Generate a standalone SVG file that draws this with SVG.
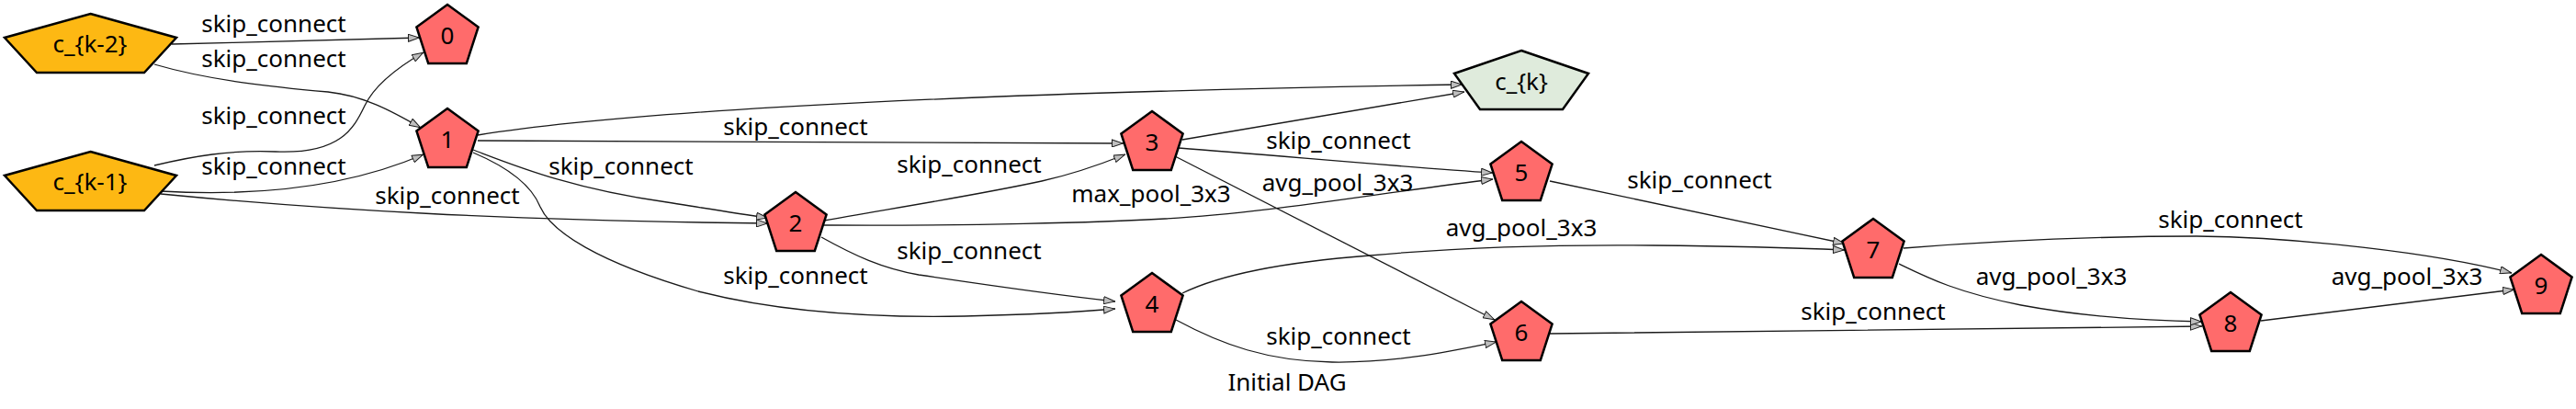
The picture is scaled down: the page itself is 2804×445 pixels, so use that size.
<svg xmlns="http://www.w3.org/2000/svg" width="2804" height="445" viewBox="0 0 2804 445">
<style>
  .bg{fill:#ffffff}
  .in{fill:#FDB813;stroke:#000;stroke-width:2.5}
  .op{fill:#FF6B6B;stroke:#000;stroke-width:2.5}
  .out{fill:#DFEBDC;stroke:#000;stroke-width:2.5}
  .e{fill:none;stroke:#1a1a1a;stroke-width:1.3;marker-end:url(#ah)}
  text{font-family:"Noto Sans","Liberation Sans",sans-serif;font-size:26px;fill:#000}
  .nl{text-anchor:middle}
  .el{text-anchor:middle}
</style>
<defs>
  <marker id="ah" viewBox="0 0 13 9" refX="13" refY="4.5" markerWidth="13" markerHeight="9" markerUnits="userSpaceOnUse" orient="auto">
    <path d="M0.5,0.5 L12.5,4.5 L0.5,8.5 Z" fill="#BEBEBE" stroke="#1a1a1a" stroke-width="1"/>
  </marker>
  <polygon id="pent" points="0,-35.4 33.6,-10.9 20.8,28.6 -20.8,28.6 -33.6,-10.9"/>
</defs>
<rect class="bg" x="0" y="0" width="2804" height="445"/>

<g id="connectors">
  <path class="e" d="M187,48 C280,46 380,43 457,41"/>
  <path class="e" d="M168,70 C230,88 300,95 357,100 C395,104 425,120 458,139"/>
  <path class="e" d="M168,180 C210,170 250,163 300,165 C370,168 385,140 397,115 C408,92 435,72 461,57"/>
  <path class="e" d="M175,208 C280,214 380,203 461,168"/>
  <path class="e" d="M175,211 C350,228 550,240 836,243"/>
  <path class="e" d="M520,147 C700,118 1100,100 1592,92"/>
  <path class="e" d="M520,153 L1223,156"/>
  <path class="e" d="M515,163 C560,180 620,205 726,220 C770,227 800,232 836,237"/>
  <path class="e" d="M515,166 C560,185 580,205 588,225 C600,252 650,285 760,317 C850,340 950,346 1050,344 C1130,342 1180,339 1214,336"/>
  <path class="e" d="M897,240 C950,230 1050,215 1134,197 C1170,189 1200,178 1225,168"/>
  <path class="e" d="M897,245 C1050,246 1200,242 1268,238 C1380,232 1500,210 1625,195"/>
  <path class="e" d="M894,258 C930,278 960,292 1000,299 C1080,311 1150,321 1214,328"/>
  <path class="e" d="M1287,152 L1594,100"/>
  <path class="e" d="M1283,161 C1400,170 1530,182 1625,188"/>
  <path class="e" d="M1279,170 L1627,348"/>
  <path class="e" d="M1280,348 C1330,375 1380,393 1450,394 C1520,395 1580,382 1629,372"/>
  <path class="e" d="M1287,319 C1330,298 1400,285 1491,278 C1600,268 1700,266 1800,267 C1900,268 1960,270 2008,272"/>
  <path class="e" d="M1687,197 L2008,265"/>
  <path class="e" d="M1687,363 C1900,361 2200,357 2397,355"/>
  <path class="e" d="M2072,270 C2200,260 2300,257 2391,257 C2500,258 2650,275 2734,297"/>
  <path class="e" d="M2067,287 C2100,303 2130,318 2200,332 C2270,345 2340,349 2397,350"/>
  <path class="e" d="M2461,349 L2737,315"/>

  <text class="el" x="298" y="35">skip_connect</text>
  <text class="el" x="298" y="73">skip_connect</text>
  <text class="el" x="298" y="135">skip_connect</text>
  <text class="el" x="298" y="190">skip_connect</text>
  <text class="el" x="487" y="222">skip_connect</text>
  <text class="el" x="866" y="147">skip_connect</text>
  <text class="el" x="676" y="190">skip_connect</text>
  <text class="el" x="866" y="309">skip_connect</text>
  <text class="el" x="1055" y="188">skip_connect</text>
  <text class="el" x="1253" y="220">max_pool_3x3</text>
  <text class="el" x="1055" y="282">skip_connect</text>
  <text class="el" x="1457" y="162">skip_connect</text>
  <text class="el" x="1456" y="208">avg_pool_3x3</text>
  <text class="el" x="1457" y="375">skip_connect</text>
  <text class="el" x="1656" y="257">avg_pool_3x3</text>
  <text class="el" x="1850" y="205">skip_connect</text>
  <text class="el" x="2039" y="348">skip_connect</text>
  <text class="el" x="2428" y="248">skip_connect</text>
  <text class="el" x="2233" y="310">avg_pool_3x3</text>
  <text class="el" x="2620" y="310">avg_pool_3x3</text>
</g>

<g id="node-ck2">
  <polygon class="in" points="98.5,15 192,41 157,79 40,79 5,41"/>
  <text class="nl" x="98" y="57">c_{k-2}</text>
</g>
<g id="node-ck1">
  <polygon class="in" points="98.5,165 192,191 157,229 40,229 5,191"/>
  <text class="nl" x="98" y="207">c_{k-1}</text>
</g>
<g id="node-ck">
  <polygon class="out" points="1656,55 1729,80 1701,119 1611,119 1583,80"/>
  <text class="nl" x="1656" y="98">c_{k}</text>
</g>
<g id="node-0">
  <use href="#pent" class="op" x="487" y="40.4"/>
  <text class="nl" x="487" y="48">0</text>
</g>
<g id="node-1">
  <use href="#pent" class="op" x="487" y="153.4"/>
  <text class="nl" x="487" y="161">1</text>
</g>
<g id="node-2">
  <use href="#pent" class="op" x="866" y="244.4"/>
  <text class="nl" x="866" y="252">2</text>
</g>
<g id="node-3">
  <use href="#pent" class="op" x="1254" y="156.4"/>
  <text class="nl" x="1254" y="164">3</text>
</g>
<g id="node-4">
  <use href="#pent" class="op" x="1254" y="332.4"/>
  <text class="nl" x="1254" y="340">4</text>
</g>
<g id="node-5">
  <use href="#pent" class="op" x="1656" y="189.4"/>
  <text class="nl" x="1656" y="197">5</text>
</g>
<g id="node-6">
  <use href="#pent" class="op" x="1656" y="363.4"/>
  <text class="nl" x="1656" y="371">6</text>
</g>
<g id="node-7">
  <use href="#pent" class="op" x="2039" y="273.4"/>
  <text class="nl" x="2039" y="281">7</text>
</g>
<g id="node-8">
  <use href="#pent" class="op" x="2428" y="353.4"/>
  <text class="nl" x="2428" y="361">8</text>
</g>
<g id="node-9">
  <use href="#pent" class="op" x="2766" y="312.4"/>
  <text class="nl" x="2766" y="320">9</text>
</g>

<text x="1401" y="425" text-anchor="middle">Initial DAG</text>
</svg>
